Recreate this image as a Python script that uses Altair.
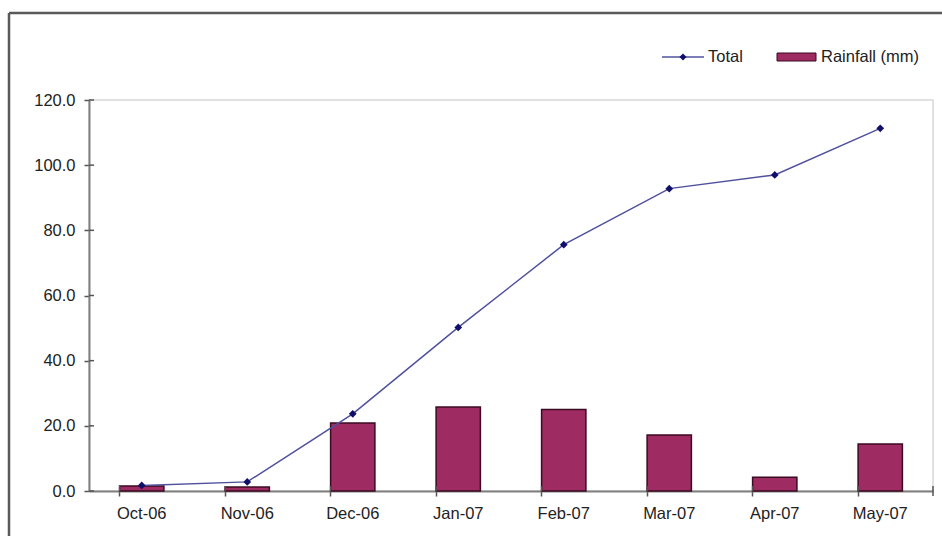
import altair as alt
import pandas as pd

months = ["Oct-06", "Nov-06", "Dec-06", "Jan-07", "Feb-07", "Mar-07", "Apr-07", "May-07"]
total = [1.7, 2.8, 23.7, 50.2, 75.6, 92.8, 97.0, 111.3]
rainfall = [1.5, 1.2, 20.9, 25.8, 25.0, 17.2, 4.2, 14.4]
y_ticks = [0, 20, 40, 60, 80, 100, 120]

W, H = 844, 391
FONT = "Liberation Sans"
FS = 16.5

df = pd.DataFrame({"month": months, "total": total, "rain": rainfall})
ticks_df = pd.DataFrame({"v": y_ticks})

xscale = alt.Scale(domain=months, paddingInner=0.58, paddingOuter=0.29)
yscale = alt.Scale(domain=[0, 120], nice=False)

x_enc = alt.X("month:N", scale=xscale, sort=months, title=None,
              axis=alt.Axis(labelAngle=0, labelFont=FONT, labelFontSize=FS, labelColor="#222222",
                            domainColor="#808080", domainWidth=2, tickColor="#555555", tickWidth=1.5,
                            tickSize=5, bandPosition=0, labelPadding=9))

bars = alt.Chart(df).mark_bar(color="#9e2b62", stroke="#3b0b22", strokeWidth=1.5).encode(
    x=x_enc,
    y=alt.Y("rain:Q", scale=yscale, title=None,
            axis=alt.Axis(values=y_ticks, format=".1f", labelFont=FONT, labelFontSize=FS,
                          labelColor="#222222", domainColor="#808080", domainWidth=2,
                          tickColor="#555555", tickWidth=1.5, tickSize=5, labelPadding=9, grid=False)),
)

line = alt.Chart(df).mark_line(color="#50509e", strokeWidth=1.5).encode(
    x=alt.X("month:N", scale=xscale, sort=months),
    y=alt.Y("total:Q", scale=yscale),
)
pts = alt.Chart(df).mark_point(shape="diamond", filled=True, color="#10106a", size=60, opacity=1).encode(
    x=alt.X("month:N", scale=xscale, sort=months),
    y=alt.Y("total:Q", scale=yscale),
)

# inward halves of crossing tick marks
ytick_in = alt.Chart(ticks_df).mark_rule(color="#555555", strokeWidth=1.5).encode(
    y=alt.Y("v:Q", scale=yscale), x=alt.value(0), x2=alt.value(5)
)
xtick_in = alt.Chart(df).mark_rule(color="#555555", strokeWidth=1.5).encode(
    x=alt.X("month:N", scale=xscale, sort=months, bandPosition=0),
    y=alt.value(H - 5), y2=alt.value(H),
)
last_tick = alt.Chart(df.head(1)).mark_rule(color="#555555", strokeWidth=1.5).encode(
    x=alt.value(W), y=alt.value(H - 5), y2=alt.value(H + 5)
)

# outer frame (top and left edges)
frame_top = alt.Chart(df.head(1)).mark_rule(color="#5a5a5a", strokeWidth=2.5).encode(
    x=alt.value(-80), x2=alt.value(W + 20), y=alt.value(-87)
)
frame_left = alt.Chart(df.head(1)).mark_rule(color="#5a5a5a", strokeWidth=2.5).encode(
    x=alt.value(-80), y=alt.value(-87), y2=alt.value(H + 60)
)

# legend
leg = df.head(1)
leg_line = alt.Chart(leg).mark_rule(color="#50509e", strokeWidth=1.5).encode(
    x=alt.value(573), x2=alt.value(615), y=alt.value(-43)
)
leg_pt = alt.Chart(leg).mark_point(shape="diamond", filled=True, color="#10106a", size=50, opacity=1).encode(
    x=alt.value(594), y=alt.value(-43)
)
leg_t1 = alt.Chart(leg).mark_text(text="Total", font=FONT, fontSize=FS, align="left", baseline="middle",
                                   color="#222222").encode(x=alt.value(619), y=alt.value(-43))
leg_rect = alt.Chart(leg).mark_rect(color="#9e2b62", stroke="#3b0b22", strokeWidth=1).encode(
    x=alt.value(688), x2=alt.value(727), y=alt.value(-47), y2=alt.value(-39)
)
leg_t2 = alt.Chart(leg).mark_text(text="Rainfall (mm)", font=FONT, fontSize=FS, align="left", baseline="middle",
                                   color="#222222").encode(x=alt.value(732), y=alt.value(-43))

chart = alt.layer(
    bars, line, pts, ytick_in, xtick_in, last_tick, frame_top, frame_left,
    leg_line, leg_pt, leg_t1, leg_rect, leg_t2
).properties(
    width=W, height=H,
    autosize=alt.AutoSizeParams(type="none"),
    padding={"left": 89, "top": 100, "right": 9, "bottom": 45},
    background="white",
).configure_view(stroke="#d8d8d8", strokeWidth=1.5)

chart.save("out.html", embed_options={"renderer": "svg", "actions": False})
